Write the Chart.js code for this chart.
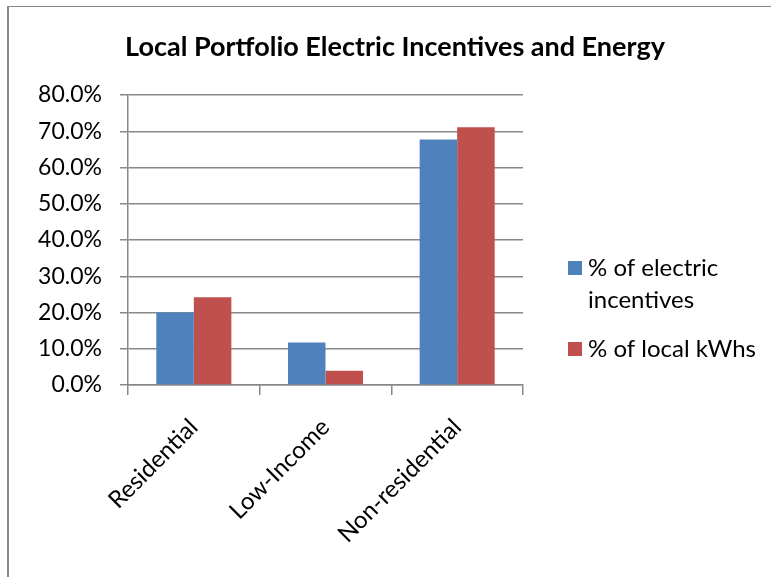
<!DOCTYPE html>
<html lang="en">
<head>
    <meta charset="UTF-8">
    <title>Local Portfolio Electric Incentives and Energy</title>
    <script src="https://cdn.jsdelivr.net/npm/chart.js"></script>
    <style>
        html, body {
            margin: 0;
            padding: 0;
            background: #ffffff;
        }

        .chart-wrap {
            position: relative;
            width: 771px;
            height: 577px;
            overflow: hidden;
        }

        .frame {
            position: absolute;
            left: 7px;
            top: 6px;
            right: -10px;
            bottom: -10px;
            border-left: 2px solid #888888;
            border-top: 1px solid #888888;
            pointer-events: none;
        }
    </style>
</head>
<body>
    <div class="chart-wrap">
        <canvas id="portfolioChart" width="771" height="577"></canvas>
        <div class="frame"></div>
    </div>

    <script>
        // Portfolio shares by sector (percent)
        const categories = ['Residential', 'Low-Income', 'Non-residential'];
        const incentiveShare = [20.0, 11.7, 67.7];
        const kwhShare = [24.2, 3.9, 71.1];
        const seriesNames = [['% of electric', 'incentives'], ['% of local kWhs']];
        const seriesColors = ['#4F81BD', '#C0504D'];
        const chartTitle = 'Local Portfolio Electric Incentives and Energy';

        const baseFont = 'Lato, "Open Sans", sans-serif';

        // Title centred over the whole canvas, legend at the right with wrapped labels
        const titleAndLegend = {
            id: 'titleAndLegend',
            afterDraw(chart) {
                const ctx = chart.ctx;
                ctx.save();

                ctx.font = 'bold 27px ' + baseFont;
                ctx.textAlign = 'center';
                ctx.textBaseline = 'middle';
                ctx.fillStyle = '#000';
                ctx.fillText(chartTitle, 395, 47);

                const boxX = 568, textX = 588, box = 14, lineH = 32;
                const rows = [268, 349];
                ctx.font = '24px ' + baseFont;
                ctx.textAlign = 'left';
                chart.data.datasets.forEach((ds, i) => {
                    const y = rows[i];
                    ctx.fillStyle = ds.backgroundColor;
                    ctx.fillRect(boxX, y - box / 2, box, box);
                    ctx.fillStyle = '#000';
                    seriesNames[i].forEach((line, j) => {
                        ctx.fillText(line, textX, y + j * lineH);
                    });
                });
                ctx.restore();
            }
        };

        const ctx = document.getElementById('portfolioChart').getContext('2d');

        new Chart(ctx, {
            type: 'bar',
            data: {
                labels: categories,
                datasets: [
                    {
                        label: seriesNames[0].join(' '),
                        data: incentiveShare,
                        backgroundColor: seriesColors[0],
                        categoryPercentage: 0.57,
                        barPercentage: 1.0
                    },
                    {
                        label: seriesNames[1].join(' '),
                        data: kwhShare,
                        backgroundColor: seriesColors[1],
                        categoryPercentage: 0.57,
                        barPercentage: 1.0
                    }
                ]
            },
            options: {
                responsive: false,
                animation: false,
                layout: {
                    padding: { left: 0, right: 248, top: 95, bottom: 0 }
                },
                plugins: {
                    legend: { display: false },
                    tooltip: { enabled: false },
                    title: { display: false }
                },
                scales: {
                    x: {
                        afterFit: (scale) => { scale.height = 192; },
                        grid: {
                            offset: true,
                            drawOnChartArea: false,
                            drawTicks: true,
                            tickLength: 10,
                            color: '#888888',
                            lineWidth: 1.5
                        },
                        border: { color: '#888888', width: 1.5 },
                        ticks: {
                            color: '#000',
                            font: { family: baseFont, size: 24 },
                            minRotation: 45,
                            maxRotation: 45,
                            padding: 18
                        }
                    },
                    y: {
                        min: 0,
                        max: 80,
                        afterFit: (scale) => { scale.width = 128; },
                        grid: {
                            color: '#888888',
                            lineWidth: 1.5,
                            tickLength: 8
                        },
                        border: { color: '#888888', width: 1.5 },
                        ticks: {
                            stepSize: 10,
                            color: '#000',
                            padding: 18,
                            font: { family: baseFont, size: 23 },
                            callback: (v) => v.toFixed(1) + '%'
                        }
                    }
                }
            },
            plugins: [titleAndLegend]
        });
    </script>
</body>
</html>
